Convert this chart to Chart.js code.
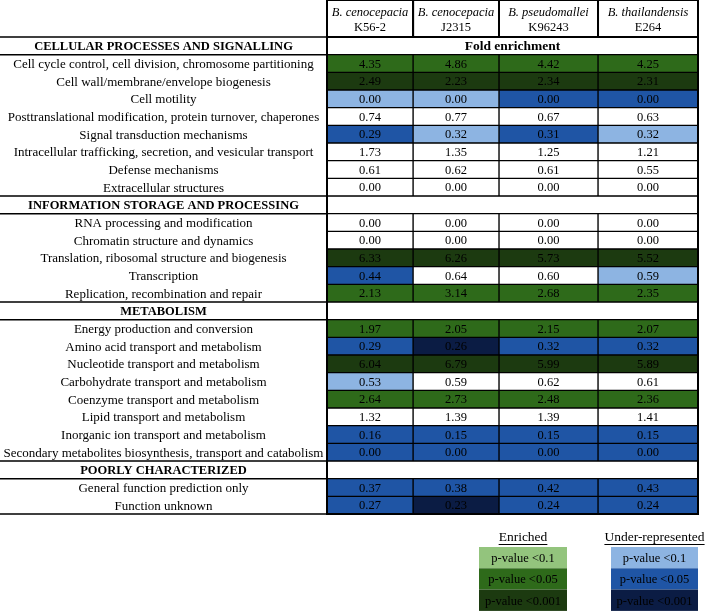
<!DOCTYPE html>
<html>
<head>
<meta charset="utf-8">
<title>COG fold enrichment</title>
<script src="https://cdn.jsdelivr.net/npm/chart.js@4.4.0/dist/chart.umd.min.js"></script>
<style>
  html, body { margin: 0; padding: 0; background: #fff; }
  #wrap { width: 708px; height: 615px; }
</style>
</head>
<body>
<div id="wrap"><canvas id="foldChart" width="708" height="615"></canvas></div>
<script>
// ---- data ----
var categories = [
  'CELLULAR PROCESSES AND SIGNALLING',
  'Cell cycle control, cell division, chromosome partitioning',
  'Cell wall/membrane/envelope biogenesis',
  'Cell motility',
  'Posttranslational modification, protein turnover, chaperones',
  'Signal transduction mechanisms',
  'Intracellular trafficking, secretion, and vesicular transport',
  'Defense mechanisms',
  'Extracellular structures',
  'INFORMATION STORAGE AND PROCESSING',
  'RNA processing and modification',
  'Chromatin structure and dynamics',
  'Translation, ribosomal structure and biogenesis',
  'Transcription',
  'Replication, recombination and repair',
  'METABOLISM',
  'Energy production and conversion',
  'Amino acid transport and metabolism',
  'Nucleotide transport and metabolism',
  'Carbohydrate transport and metabolism',
  'Coenzyme transport and metabolism',
  'Lipid transport and metabolism',
  'Inorganic ion transport and metabolism',
  'Secondary metabolites biosynthesis, transport and catabolism',
  'POORLY CHARACTERIZED',
  'General function prediction only',
  'Function unknown'
];
var sectionRows = [0, 9, 15, 24];

var species = ['B. cenocepacia', 'B. cenocepacia', 'B. pseudomallei', 'B. thailandensis'];
var strains = ['K56-2', 'J2315', 'K96243', 'E264'];

var foldK562   = [null, 4.35, 2.49, 0.00, 0.74, 0.29, 1.73, 0.61, 0.00, null, 0.00, 0.00, 6.33, 0.44, 2.13, null, 1.97, 0.29, 6.04, 0.53, 2.64, 1.32, 0.16, 0.00, null, 0.37, 0.27];
var foldJ2315  = [null, 4.86, 2.23, 0.00, 0.77, 0.32, 1.35, 0.62, 0.00, null, 0.00, 0.00, 6.26, 0.64, 3.14, null, 2.05, 0.26, 6.79, 0.59, 2.73, 1.39, 0.15, 0.00, null, 0.38, 0.23];
var foldK96243 = [null, 4.42, 2.34, 0.00, 0.67, 0.31, 1.25, 0.61, 0.00, null, 0.00, 0.00, 5.73, 0.60, 2.68, null, 2.15, 0.32, 5.99, 0.62, 2.48, 1.39, 0.15, 0.00, null, 0.42, 0.24];
var foldE264   = [null, 4.25, 2.31, 0.00, 0.63, 0.32, 1.21, 0.55, 0.00, null, 0.00, 0.00, 5.52, 0.59, 2.35, null, 2.07, 0.32, 5.89, 0.61, 2.36, 1.41, 0.15, 0.00, null, 0.43, 0.24];

// significance: e = enriched, u = under-represented; 1: p<0.1, 2: p<0.05, 3: p<0.001
var sigK562   = ['', 'e2', 'e3', 'u1', '', 'u2', '', '', '', '', '', '', 'e3', 'u2', 'e2', '', 'e2', 'u2', 'e3', 'u1', 'e2', '', 'u2', 'u2', '', 'u2', 'u2'];
var sigJ2315  = ['', 'e2', 'e3', 'u1', '', 'u1', '', '', '', '', '', '', 'e3', '',   'e2', '', 'e2', 'u3', 'e3', '',   'e2', '', 'u2', 'u2', '', 'u2', 'u3'];
var sigK96243 = ['', 'e2', 'e3', 'u2', '', 'u2', '', '', '', '', '', '', 'e3', '',   'e2', '', 'e2', 'u2', 'e3', '',   'e2', '', 'u2', 'u2', '', 'u2', 'u2'];
var sigE264   = ['', 'e2', 'e3', 'u2', '', 'u1', '', '', '', '', '', '', 'e3', 'u1', 'e2', '', 'e2', 'u2', 'e3', '',   'e2', '', 'u2', 'u2', '', 'u2', 'u2'];

var legendLevels = ['p-value <0.1', 'p-value <0.05', 'p-value <0.001'];

// ---- styling ----
var FONT = '"Liberation Serif", "Times New Roman", serif';
var LABEL_SIZE = 13;
var HEAD_SIZE = 12.5;
var LABEL_AREA = 327;
var sigColors = { '': '#ffffff', e1: '#93c47d', e2: '#2e6a1a', e3: '#1c3a10', u1: '#8db4e2', u2: '#1f55a5', u3: '#0b1c44' };
var colEdges = [0, 0.232, 0.4636, 0.7305, 1];   // column boundaries across the table (layout)
var colCenters = colEdges.slice(0, 4).map(function (e, i) { return (e + colEdges[i + 1]) / 2; });

var folds = [foldK562, foldJ2315, foldK96243, foldE264];
var sigs = [sigK562, sigJ2315, sigK96243, sigE264];

function isSection(i) { return sectionRows.indexOf(i) >= 0; }
function labelFont(i) {
  return isSection(i) ? { family: FONT, size: HEAD_SIZE, weight: 'bold' } : { family: FONT, size: LABEL_SIZE };
}

// center the row labels in the left column
var mctx = document.createElement('canvas').getContext('2d');
var widest = 0;
categories.forEach(function (c, i) {
  var f = labelFont(i);
  mctx.font = (f.weight ? 'bold ' : '') + f.size + 'px ' + FONT;
  widest = Math.max(widest, mctx.measureText(c).width);
});
var labelPad = Math.max(0, LABEL_AREA / 2 - widest / 2);

var datasets = folds.map(function (vals, c) {
  return {
    label: species[c] + ' ' + strains[c],
    data: vals.map(function (v) { return v === null ? null : [colEdges[c], colEdges[c + 1]]; }),
    backgroundColor: sigs[c].map(function (s) { return sigColors[s]; }),
    borderColor: '#000',
    borderWidth: 1,
    borderSkipped: false,
    grouped: false,
    barPercentage: 1,
    categoryPercentage: 1
  };
});
datasets.push({
  label: 'section',
  data: categories.map(function (c, i) { return isSection(i) ? [0, 1] : null; }),
  backgroundColor: '#ffffff',
  borderColor: '#000',
  borderWidth: 1,
  borderSkipped: false,
  grouped: false,
  barPercentage: 1,
  categoryPercentage: 1
});

var tablePlugin = {
  id: 'tablePlugin',
  afterDatasetsDraw: function (chart) {
    var ctx = chart.ctx;
    var area = chart.chartArea;
    var xs = chart.scales.x;
    var ys = chart.scales.y;
    var rowH = ys.getPixelForValue(1) - ys.getPixelForValue(0);
    ctx.save();
    // values in cells
    ctx.textAlign = 'center';
    ctx.textBaseline = 'middle';
    ctx.fillStyle = '#000';
    ctx.font = '12.5px ' + FONT;
    folds.forEach(function (vals, c) {
      chart.getDatasetMeta(c).data.forEach(function (bar, i) {
        if (vals[i] === null) return;
        var p = bar.getCenterPoint();
        ctx.fillText(vals[i].toFixed(2), p.x, p.y + 1);
      });
    });
    // "Fold enrichment" in the first section row
    var sec = chart.getDatasetMeta(4).data[sectionRows[0]].getCenterPoint();
    ctx.font = 'bold 13.5px ' + FONT;
    ctx.fillText('Fold enrichment', sec.x, sec.y + 1);
    // lines around the section labels
    ctx.strokeStyle = '#000';
    ctx.lineWidth = 1.5;
    ctx.beginPath();
    sectionRows.forEach(function (r) {
      var yc = ys.getPixelForValue(r);
      ctx.moveTo(0, yc - rowH / 2); ctx.lineTo(area.left, yc - rowH / 2);
      ctx.moveTo(0, yc + rowH / 2); ctx.lineTo(area.left, yc + rowH / 2);
    });
    ctx.moveTo(0, area.bottom); ctx.lineTo(area.left, area.bottom);
    ctx.stroke();
    // header boxes
    ctx.lineWidth = 2;
    for (var c = 0; c < 4; c++) {
      var x0 = xs.getPixelForValue(colEdges[c]);
      var x1 = xs.getPixelForValue(colEdges[c + 1]);
      ctx.strokeRect(x0, 0, x1 - x0, area.top);
    }
    ctx.strokeRect(area.left, area.top, area.right - area.left, area.bottom - area.top);
    ctx.restore();
  },
  afterDraw: function (chart) {
    var ctx = chart.ctx;
    var groups = [
      { title: 'Enriched', x: 479, w: 88, keys: ['e1', 'e2', 'e3'] },
      { title: 'Under-represented', x: 611, w: 87, keys: ['u1', 'u2', 'u3'] }
    ];
    var top = 547, h = 21.3;
    ctx.save();
    ctx.textAlign = 'center';
    ctx.textBaseline = 'middle';
    groups.forEach(function (g) {
      var cx = g.x + g.w / 2;
      ctx.fillStyle = '#000';
      ctx.font = '13.5px ' + FONT;
      ctx.fillText(g.title, cx, 537);
      var tw = ctx.measureText(g.title).width;
      ctx.fillRect(cx - tw / 2, 544, tw, 1);
      g.keys.forEach(function (k, j) {
        ctx.fillStyle = sigColors[k];
        ctx.fillRect(g.x, top + j * h, g.w, h);
        ctx.fillStyle = '#000';
        ctx.font = '12.5px ' + FONT;
        ctx.fillText(legendLevels[j], cx, top + j * h + h / 2 + 1);
      });
    });
    ctx.restore();
  }
};

var ctx = document.getElementById('foldChart').getContext('2d');
new Chart(ctx, {
  type: 'bar',
  data: { labels: categories, datasets: datasets },
  plugins: [tablePlugin],
  options: {
    responsive: false,
    animation: false,
    devicePixelRatio: 1,
    indexAxis: 'y',
    layout: { padding: { left: 0, right: 10, top: 0, bottom: 101 } },
    plugins: { legend: { display: false }, tooltip: { enabled: false } },
    scales: {
      x: { type: 'linear', min: 0, max: 1, display: false },
      y: {
        type: 'category',
        grid: { display: false, drawTicks: false },
        border: { display: false },
        afterFit: function (s) { s.width = LABEL_AREA; },
        ticks: {
          autoSkip: false,
          crossAlign: 'center',
          padding: labelPad,
          labelOffset: 1,
          color: '#000',
          font: function (c) { return labelFont(c.index); }
        }
      },
      xSpecies: {
        type: 'linear', position: 'top', min: 0, max: 1, weight: 2,
        grid: { display: false, drawTicks: false },
        border: { display: false },
        afterBuildTicks: function (s) { s.ticks = colCenters.map(function (v) { return { value: v }; }); },
        afterFit: function (s) { s.height = 21.5; },
        ticks: {
          autoSkip: false, maxRotation: 0, padding: 1, color: '#000',
          font: { family: FONT, size: 12.5, style: 'italic' },
          callback: function (v, i) { return species[i]; }
        }
      },
      xStrain: {
        type: 'linear', position: 'top', min: 0, max: 1, weight: 1,
        grid: { display: false, drawTicks: false },
        border: { display: false },
        afterBuildTicks: function (s) { s.ticks = colCenters.map(function (v) { return { value: v }; }); },
        afterFit: function (s) { s.height = 15.5; },
        ticks: {
          autoSkip: false, maxRotation: 0, padding: 2, color: '#000',
          font: { family: FONT, size: 12.5 },
          callback: function (v, i) { return strains[i]; }
        }
      }
    }
  }
});
</script>
</body>
</html>
